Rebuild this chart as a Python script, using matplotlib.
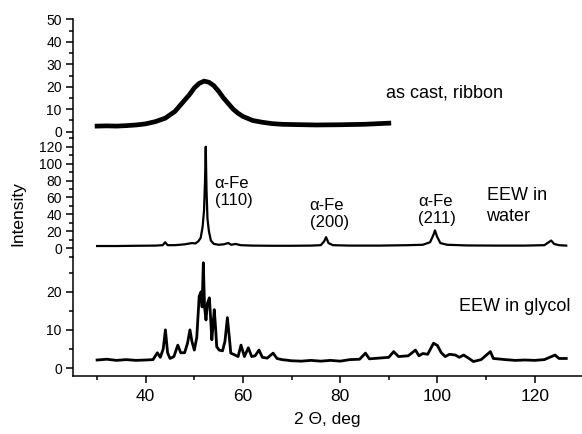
import matplotlib.pyplot as plt
from matplotlib.ticker import MultipleLocator, FixedLocator

plt.rcParams['font.family'] = ['Liberation Sans', 'DejaVu Sans']

# as cast ribbon
cast_x = [30, 32, 34, 36, 38, 40, 42, 44, 46, 48, 49, 50, 51, 52, 53, 54, 55,
          56, 57, 58, 59, 60, 62, 64, 66, 68, 70, 75, 80, 85, 90]
cast_y = [2.5, 2.6, 2.5, 2.7, 3.0, 3.5, 4.5, 6.0, 9.0, 14.0, 16.5, 19.5, 21.5,
          22.5, 22.0, 20.5, 18.0, 15.0, 12.5, 10.0, 8.2, 6.8, 5.0, 4.2, 3.6,
          3.3, 3.2, 3.0, 3.1, 3.3, 3.8]

# EEW in water
water_x = [30, 34, 38, 42, 43.5, 44.0, 44.5, 46, 48, 49.5, 50.2, 50.8, 51.3,
           51.7, 52.0, 52.2, 52.35, 52.5, 52.7, 53.0, 53.4, 54, 55, 56, 57,
           57.6, 58.5, 59.5, 62, 66, 70, 74, 76, 76.7, 77.1, 77.6, 78.5, 82,
           88, 94, 97, 98.5, 99.2, 99.5, 99.9, 100.6, 102, 106, 112, 118, 122,
           123.4, 124, 125, 126.5]
water_y = [2.5, 2.5, 2.8, 3, 3.5, 7, 3.5, 3.5, 4.5, 6, 5.5, 8, 12, 25, 45, 80,
           120, 70, 35, 20, 9, 5, 4, 4.5, 6, 4, 5, 3.5, 3, 2.8, 2.8, 3, 3.5, 8,
           13, 6, 3.5, 3, 3, 3.5, 4, 7, 16, 21, 14, 6, 4, 3.2, 3, 3, 3.5, 9, 5,
           3.5, 3]

# EEW in glycol
glycol_x = [30, 32, 34, 36, 38, 40, 41.5, 42.4, 43.0, 43.6, 44.05, 44.5, 45,
            45.8, 46.6, 47.2, 48.0, 48.6, 49.1, 49.5, 50.0, 50.5, 51.0, 51.4,
            51.6, 51.85, 52.1, 52.4, 52.7, 53.1, 53.4, 53.6, 53.9, 54.1, 54.4,
            54.6, 55.1, 55.8, 56.3, 56.8, 57.2, 57.5, 58.2, 59.0, 59.6, 60.3,
            61.1, 61.8, 62.5, 63.3, 64, 65, 66.2, 67, 68, 70, 72, 74, 76, 78,
            80, 82, 84, 85.2, 86, 88, 90, 91, 92, 94, 95.5, 96.2, 97, 98, 99.2,
            100, 100.8, 101.6, 102.5, 103.7, 104.5, 105.4, 106.5, 107.4, 109,
            110.9, 111.5, 114, 116, 118, 120, 122, 124.2, 125, 126.5]
glycol_y = [2.1, 2.3, 2.0, 2.2, 2.0, 2.1, 2.2, 4, 2.8, 5, 10, 4, 2.5, 3, 6, 4,
            4, 6.5, 10, 7, 4.7, 8, 18.8, 20, 16, 27.6, 16, 12.6, 17, 18.4, 12,
            7.4, 12, 15.3, 10, 5.6, 4.7, 4.5, 7, 13.2, 8, 3.9, 3.5, 3.0, 6, 3,
            5.3, 3.0, 3.2, 4.7, 2.8, 2.6, 3.9, 2.5, 2.2, 1.9, 1.8, 2.0, 1.8,
            2.0, 1.8, 2.2, 2.3, 3.9, 2.4, 2.6, 2.8, 4.3, 3, 3.2, 4.7, 3.2, 3.8,
            3.6, 6.5, 5.9, 4, 3, 3.6, 3.4, 2.8, 3.4, 2.5, 1.7, 2.2, 4.3, 2.5,
            2.2, 2.0, 2.1, 2.0, 2.2, 3.4, 2.5, 2.5]

fig = plt.figure(figsize=(5.82, 4.34), dpi=100)
left, width = 0.1254, 0.874
ax_top = fig.add_axes([left, 0.682, width, 0.2735])
ax_mid = fig.add_axes([left, 0.4078, width, 0.2742])
ax_bot = fig.add_axes([left, 0.1336, width, 0.2742])

ax_top.plot(cast_x, cast_y, color='black', lw=3.4, solid_joinstyle='round')
ax_mid.plot(water_x, water_y, color='black', lw=1.6, solid_joinstyle='round')
ax_bot.plot(glycol_x, glycol_y, color='black', lw=2.0, solid_joinstyle='round')

ax_top.set_ylim(-2.8, 50)
ax_mid.set_ylim(-10.5, 130.3)
ax_bot.set_ylim(-2.1, 29.1)

ax_top.yaxis.set_major_locator(MultipleLocator(10))
ax_top.yaxis.set_minor_locator(MultipleLocator(5))
ax_mid.yaxis.set_major_locator(MultipleLocator(20))
ax_mid.yaxis.set_minor_locator(MultipleLocator(10))
ax_bot.yaxis.set_major_locator(FixedLocator([0, 10, 20]))
ax_bot.yaxis.set_minor_locator(FixedLocator([5, 15, 25]))

for ax in (ax_top, ax_mid, ax_bot):
    ax.set_xlim(25.04, 129.67)
    ax.patch.set_visible(False)
    for s in ('top', 'right'):
        ax.spines[s].set_visible(False)
    ax.spines['left'].set_linewidth(1.1)
    ax.tick_params(axis='y', which='major', direction='out', length=5,
                   width=1.1, labelsize=10, pad=3)
    ax.tick_params(axis='y', which='minor', direction='out', length=3,
                   width=1.1)

for ax in (ax_top, ax_mid):
    ax.spines['bottom'].set_visible(False)
    ax.tick_params(axis='x', which='both', bottom=False, labelbottom=False)

ax_bot.spines['bottom'].set_linewidth(1.1)
ax_bot.xaxis.set_major_locator(MultipleLocator(20))
ax_bot.xaxis.set_minor_locator(MultipleLocator(10))
ax_bot.tick_params(axis='x', which='major', direction='out', length=5,
                   width=1.1, labelsize=12.5, pad=4)
ax_bot.tick_params(axis='x', which='minor', direction='out', length=3,
                   width=1.1)
ax_bot.set_xticks([40, 60, 80, 100, 120])
ax_bot.set_xlabel('2 \u0398, deg', fontsize=12.5, labelpad=6)

fig.text(0.031, 1 - 214 / 434, 'Intensity', rotation=90, fontsize=12.5,
         ha='center', va='center')

ax_top.text(89.4, 17.3, 'as cast, ribbon', fontsize=13, ha='left', va='center')
ax_mid.text(54.2, 66.7, '\u03b1-Fe\n(110)', fontsize=12, ha='left',
            va='center', linespacing=1.2)
ax_mid.text(73.7, 40.3, '\u03b1-Fe\n(200)', fontsize=12, ha='left',
            va='center', linespacing=1.2)
ax_mid.text(96.0, 45.0, '\u03b1-Fe\n(211)', fontsize=12, ha='left',
            va='center', linespacing=1.2)
ax_mid.text(110.1, 50.0, 'EEW in\nwater', fontsize=13, ha='left',
            va='center', linespacing=1.35)
ax_bot.text(104.4, 16.1, 'EEW in glycol', fontsize=13, ha='left',
            va='center')

fig.savefig('out.png', dpi=100)
